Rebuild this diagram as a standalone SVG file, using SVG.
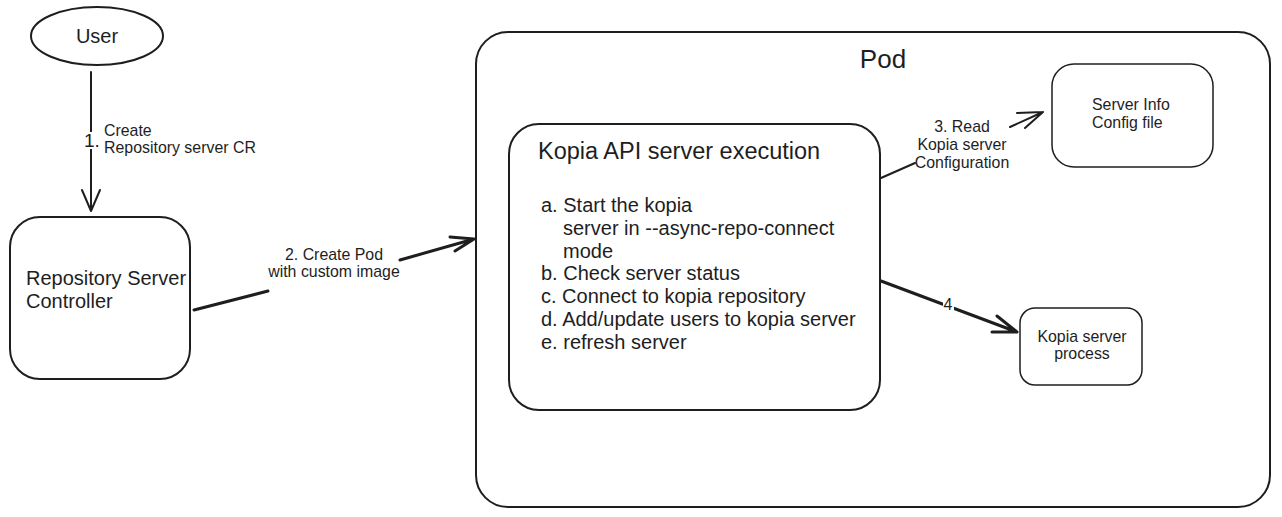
<svg xmlns="http://www.w3.org/2000/svg" width="1282" height="517" viewBox="0 0 1282 517">
<style>
.box{fill:#fff;stroke:#1e1e1e;stroke-width:2}
.thin{fill:#fff;stroke:#1e1e1e;stroke-width:1.5}
.ln{fill:none;stroke:#1e1e1e;stroke-width:2;stroke-linecap:round;stroke-linejoin:round}
.thick{fill:none;stroke:#1e1e1e;stroke-width:3;stroke-linecap:round;stroke-linejoin:round}
text{font-family:"Liberation Sans",Arial,sans-serif;fill:#1e1e1e}
.s14{font-size:15.9px}
.s18{font-size:20px}
.mid{text-anchor:middle}
</style>
<rect width="1282" height="517" fill="#fff"/>
<g id="pod">
<rect class="box" x="476" y="32" width="794" height="475" rx="32"/>
<text x="883" y="68" class="mid" style="font-size:26px">Pod</text>
</g>
<g id="user">
<ellipse class="box" cx="97" cy="36" rx="66" ry="29"/>
<text x="97" y="43" class="mid" style="font-size:20px">User</text>
</g>
<g id="controller">
<rect class="box" x="10" y="217" width="180" height="162" rx="30"/>
<text x="26" y="285" class="s18">Repository Server</text>
<text x="26" y="308" class="s18">Controller</text>
</g>
<g id="kopia-api">
<rect class="box" x="509" y="124" width="371" height="286" rx="30"/>
<text x="538" y="159" style="font-size:23.5px">Kopia API server execution</text>
<text class="s18">
<tspan x="541" y="212">a. Start the kopia</tspan>
<tspan x="563" y="235">server in --async-repo-connect</tspan>
<tspan x="563" y="258">mode</tspan>
<tspan x="541" y="280">b. Check server status</tspan>
<tspan x="541" y="303">c. Connect to kopia repository</tspan>
<tspan x="541" y="326">d. Add/update users to kopia server</tspan>
<tspan x="541" y="349">e. refresh server</tspan>
</text>
</g>
<g id="server-info">
<rect class="thin" x="1052" y="64" width="161" height="103" rx="22"/>
<text x="1092" y="110" class="s14">Server Info</text>
<text x="1092" y="128" class="s14">Config file</text>
</g>
<g id="kopia-process">
<rect class="thin" x="1020" y="308" width="122" height="77" rx="15"/>
<text x="1082" y="342" class="s14 mid">Kopia server</text>
<text x="1082" y="359" class="s14 mid">process</text>
</g>
<g id="connectors">
<path class="ln" d="M91 72 L91 211 M82 190 L91 211 L100 190"/>
<rect x="83" y="132" width="14" height="17" fill="#fff"/>
<text x="84" y="147" style="font-size:19px">1.</text>
<text x="104" y="136" class="s14">Create</text>
<text x="104" y="153" class="s14">Repository server CR</text>

<path class="thick" d="M194 310 L268 291 M400 260 L474 239 M450 237 L474 239 L455 251"/>
<text x="334" y="260" class="s14 mid">2. Create Pod</text>
<text x="334" y="277" class="s14 mid">with custom image</text>

<path class="ln" d="M881 178 L915 163 M1010 127 L1043 112 M1017 113 L1043 112 L1025 128"/>
<text x="962" y="132" class="s14 mid">3. Read</text>
<text x="962" y="150" class="s14 mid">Kopia server</text>
<text x="962" y="168" class="s14 mid">Configuration</text>

<path class="thick" d="M881 281 L1017 332 M997 316 L1017 332 L992 332"/>
<rect x="943" y="296" width="11" height="15" fill="#fff"/>
<text x="948" y="310" class="s14 mid">4</text>
</g>
</svg>
